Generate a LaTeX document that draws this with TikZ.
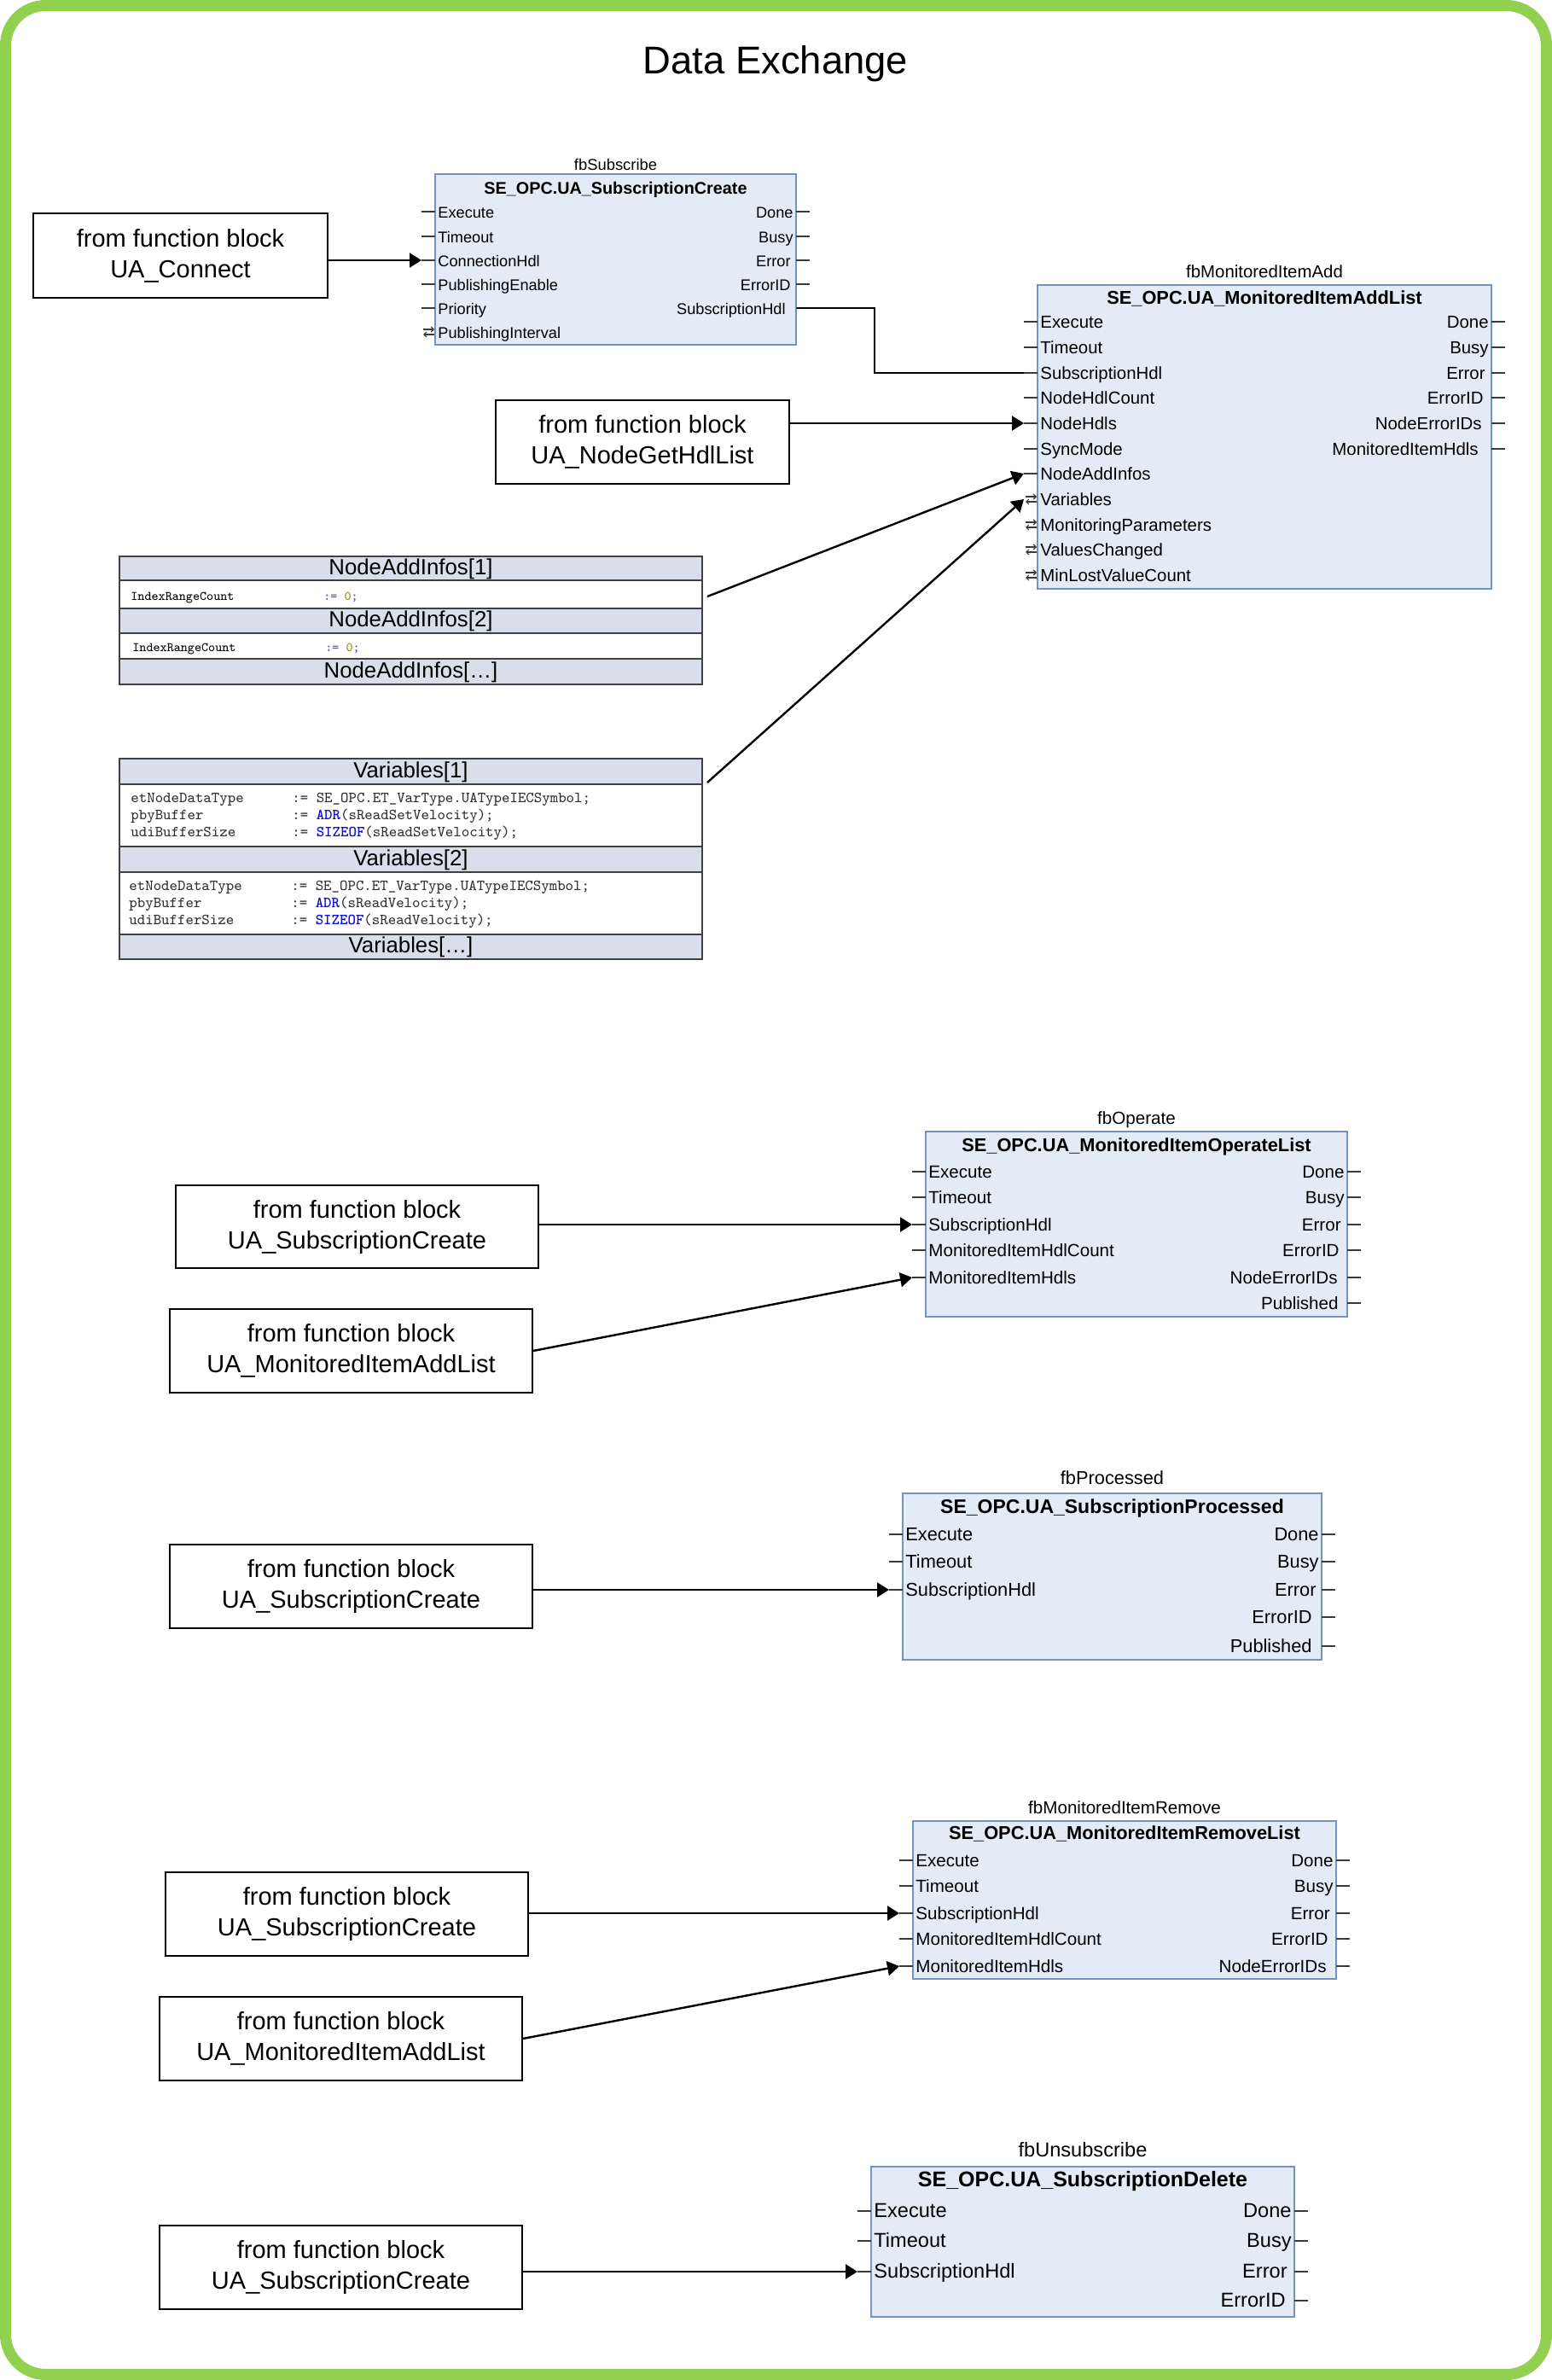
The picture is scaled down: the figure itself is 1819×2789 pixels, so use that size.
\documentclass[tikz,border=0pt]{standalone}
\usepackage{fontspec}
\setmainfont{Liberation Sans}
\usetikzlibrary{arrows.meta,fit}
\definecolor{framegreen}{HTML}{92D050}
\definecolor{fbfill}{HTML}{E3EBF7}
\definecolor{fbdraw}{HTML}{7393C1}
\definecolor{thfill}{HTML}{D9DFEA}
\definecolor{tdraw}{HTML}{404040}
\definecolor{stubc}{HTML}{3A3A3A}
\definecolor{kwblue}{HTML}{1010D0}
\definecolor{opblue}{HTML}{4848E0}
\definecolor{numolive}{HTML}{8A8A10}
\definecolor{codegray}{HTML}{303030}
\newcommand\fsz[1]{\fontsize{#1}{#1}\selectfont}
\def\bodysize{10}\def\ttlsize{10}\def\hdsize{11}
\tikzset{
  fbblock/.style={draw=fbdraw, fill=fbfill, line width=1pt, inner sep=0pt},
  stub/.style={draw=stubc, line width=0.6pt},
  pinlbl/.style={inner sep=0pt, text height=0.72em, text depth=0pt, font=\fsz{\bodysize}},
  srcbox/.style={draw=black, line width=0.8pt, inner sep=0pt, fill=white},
  srctext/.style={align=center, inner sep=0pt, font=\fontsize{14.5}{18}\selectfont},
  link/.style={draw=black, line width=1.2pt, -{Triangle[length=7pt,width=8.5pt]}},
  wire/.style={draw=black, line width=1.1pt},
  thead/.style={draw=tdraw, fill=thfill, line width=0.8pt, inner sep=0pt},
  tbody/.style={draw=tdraw, fill=white, line width=0.8pt, inner sep=0pt},
  hdtxt/.style={inner sep=0pt, text height=0.72em, text depth=0pt, font=\fsz{12.9}},
  codeA/.style={inner sep=0pt, anchor=west, text height=0.6em, text depth=0pt, font=\ttfamily\fsz{7.6}},
  codeB/.style={inner sep=0pt, anchor=west, text height=0.6em, text depth=0pt, font=\ttfamily\fsz{9}, text=codegray},
}
% input pin: name, left x, y, label
\newcommand\pinin[4]{%
  \coordinate (#1) at ({#2-16},#3);
  \draw[stub] (#1) -- (#2,#3);
  \node[pinlbl,anchor=west] (#1-t) at ({#2+3},#3) {#4};}
% in-out pin
\newcommand\pinio[4]{%
  \coordinate (#1) at ({#2-16},#3);
  \draw[stub,-{Straight Barb[length=1.5pt,width=3pt]}] ({#2-14},{#3-3}) -- ({#2-1},{#3-3});
  \draw[stub,-{Straight Barb[length=1.5pt,width=3pt]}] ({#2-1},{#3+3}) -- ({#2-14},{#3+3});
  \node[pinlbl,anchor=west] (#1-t) at ({#2+3},#3) {#4};}
% output pin: [inset], name, right x, y, label
\newcommand\pinout[5][3]{%
  \coordinate (#2) at ({#3+16},#4);
  \draw[stub] (#3,#4) -- (#2);
  \node[pinlbl,anchor=east] (#2-t) at ({#3-#1},#4) {#5};}
% block frame: name, L, T, R, B, instance, type, title y, header y
\newcommand\fbframe[9]{%
  \node[fbblock, fit={(#2,#3) (#4,#5)}] (#1) {};
  \node[font=\fsz{\ttlsize}, inner sep=0pt, text height=0.72em, text depth=0pt] (#1-name) at ({(#2+#4)/2},#8) {#6};
  \node[font=\bfseries\fsz{\hdsize}, inner sep=0pt, text height=0.72em, text depth=0pt] (#1-type) at ({(#2+#4)/2},#9) {#7};}
\begin{document}
\begin{tikzpicture}[x=0.5pt,y=-0.5pt]
\useasboundingbox (0,0) rectangle (1819,2789);
\draw[draw=framegreen, line width=6.5pt, rounded corners=23.5pt] (6.5,6.5) rectangle (1812.5,2782.5);
\node[inner sep=0pt, font=\fsz{22.7}, text height=0.72em, text depth=0pt] (title) at (909,79) {Data Exchange};

% ---------- fbSubscribe ----------
\def\bodysize{9.1}\def\ttlsize{9.2}\def\hdsize{9.9}
\fbframe{sub}{510}{204}{933}{404}{fbSubscribe}{SE\_OPC.UA\_SubscriptionCreate}{192}{220}
\pinin{subI1}{510}{248}{Execute}
\pinin{subI2}{510}{277}{Timeout}
\pinin{subI3}{510}{305}{ConnectionHdl}
\pinin{subI4}{510}{333}{PublishingEnable}
\pinin{subI5}{510}{361}{Priority}
\pinio{subI6}{510}{389}{PublishingInterval}
\pinout{subO1}{933}{248}{Done}
\pinout{subO2}{933}{277}{Busy}
\pinout[6]{subO3}{933}{305}{Error}
\pinout[6]{subO4}{933}{333}{ErrorID}
\pinout[12]{subO5}{933}{361}{SubscriptionHdl}

% ---------- fbMonitoredItemAdd ----------
\def\bodysize{10.2}\def\ttlsize{10.2}\def\hdsize{10.9}
\fbframe{ma}{1216}{334}{1748}{690}{fbMonitoredItemAdd}{SE\_OPC.UA\_MonitoredItemAddList}{318}{349}
\pinin{maI1}{1216}{377}{Execute}
\pinin{maI2}{1216}{407}{Timeout}
\pinin{maI3}{1216}{437}{SubscriptionHdl}
\pinin{maI4}{1216}{466}{NodeHdlCount}
\pinin{maI5}{1216}{496}{NodeHdls}
\pinin{maI6}{1216}{526}{SyncMode}
\pinin{maI7}{1216}{555}{NodeAddInfos}
\pinio{maI8}{1216}{585}{Variables}
\pinio{maI9}{1216}{615}{MonitoringParameters}
\pinio{maI10}{1216}{644}{ValuesChanged}
\pinio{maI11}{1216}{674}{MinLostValueCount}
\pinout{maO1}{1748}{377}{Done}
\pinout{maO2}{1748}{407}{Busy}
\pinout[7]{maO3}{1748}{437}{Error}
\pinout[9]{maO4}{1748}{466}{ErrorID}
\pinout[11]{maO5}{1748}{496}{NodeErrorIDs}
\pinout[15]{maO6}{1748}{526}{MonitoredItemHdls}

% ---------- fbOperate ----------
\def\bodysize{10.3}\def\ttlsize{10.3}\def\hdsize{10.9}
\fbframe{op}{1085}{1326}{1579}{1543}{fbOperate}{SE\_OPC.UA\_MonitoredItemOperateList}{1310}{1342}
\pinin{opI1}{1085}{1373}{Execute}
\pinin{opI2}{1085}{1403}{Timeout}
\pinin{opI3}{1085}{1435}{SubscriptionHdl}
\pinin{opI4}{1085}{1465}{MonitoredItemHdlCount}
\pinin{opI5}{1085}{1497}{MonitoredItemHdls}
\pinout{opO1}{1579}{1373}{Done}
\pinout{opO2}{1579}{1403}{Busy}
\pinout[7]{opO3}{1579}{1435}{Error}
\pinout[9]{opO4}{1579}{1465}{ErrorID}
\pinout[11]{opO5}{1579}{1497}{NodeErrorIDs}
\pinout[10]{opO6}{1579}{1527}{Published}

% ---------- fbProcessed ----------
\def\bodysize{10.9}\def\ttlsize{10.9}\def\hdsize{11.5}
\fbframe{pr}{1058}{1750}{1549}{1945}{fbProcessed}{SE\_OPC.UA\_SubscriptionProcessed}{1732}{1766}
\pinin{prI1}{1058}{1798}{Execute}
\pinin{prI2}{1058}{1830}{Timeout}
\pinin{prI3}{1058}{1863}{SubscriptionHdl}
\pinout{prO1}{1549}{1798}{Done}
\pinout{prO2}{1549}{1830}{Busy}
\pinout[6]{prO3}{1549}{1863}{Error}
\pinout[11]{prO4}{1549}{1895}{ErrorID}
\pinout[11]{prO5}{1549}{1929}{Published}

% ---------- fbMonitoredItemRemove ----------
\def\bodysize{10.3}\def\ttlsize{10.3}\def\hdsize{10.9}
\fbframe{rm}{1070}{2134}{1566}{2319}{fbMonitoredItemRemove}{SE\_OPC.UA\_MonitoredItemRemoveList}{2118}{2148}
\pinin{rmI1}{1070}{2180}{Execute}
\pinin{rmI2}{1070}{2210}{Timeout}
\pinin{rmI3}{1070}{2242}{SubscriptionHdl}
\pinin{rmI4}{1070}{2272}{MonitoredItemHdlCount}
\pinin{rmI5}{1070}{2304}{MonitoredItemHdls}
\pinout{rmO1}{1566}{2180}{Done}
\pinout{rmO2}{1566}{2210}{Busy}
\pinout[7]{rmO3}{1566}{2242}{Error}
\pinout[9]{rmO4}{1566}{2272}{ErrorID}
\pinout[11]{rmO5}{1566}{2304}{NodeErrorIDs}

% ---------- fbUnsubscribe ----------
\def\bodysize{11.8}\def\ttlsize{11.8}\def\hdsize{12.5}
\fbframe{un}{1021}{2539}{1517}{2715}{fbUnsubscribe}{SE\_OPC.UA\_SubscriptionDelete}{2520}{2555}
\pinin{unI1}{1021}{2591}{Execute}
\pinin{unI2}{1021}{2626}{Timeout}
\pinin{unI3}{1021}{2662}{SubscriptionHdl}
\pinout{unO1}{1517}{2591}{Done}
\pinout{unO2}{1517}{2626}{Busy}
\pinout[8]{unO3}{1517}{2662}{Error}
\pinout[10]{unO4}{1517}{2696}{ErrorID}

% ---------- source boxes ----------
\node[srcbox, fit={(39,250) (384,349)}] (srcA) {};
\node[srctext] (srcA-t) at (srcA.center) {from function block\\UA\_Connect};
\node[srcbox, fit={(581,469) (925,567)}] (srcB) {};
\node[srctext] (srcB-t) at (srcB.center) {from function block\\UA\_NodeGetHdlList};
\node[srcbox, fit={(206,1389) (631,1486)}] (srcC) {};
\node[srctext] (srcC-t) at (srcC.center) {from function block\\UA\_SubscriptionCreate};
\node[srcbox, fit={(199,1534) (624,1632)}] (srcD) {};
\node[srctext] (srcD-t) at (srcD.center) {from function block\\UA\_MonitoredItemAddList};
\node[srcbox, fit={(199,1810) (624,1908)}] (srcE) {};
\node[srctext] (srcE-t) at (srcE.center) {from function block\\UA\_SubscriptionCreate};
\node[srcbox, fit={(194,2194) (619,2292)}] (srcF) {};
\node[srctext] (srcF-t) at (srcF.center) {from function block\\UA\_SubscriptionCreate};
\node[srcbox, fit={(187,2340) (612,2438)}] (srcG) {};
\node[srctext] (srcG-t) at (srcG.center) {from function block\\UA\_MonitoredItemAddList};
\node[srcbox, fit={(187,2608) (612,2706)}] (srcH) {};
\node[srctext] (srcH-t) at (srcH.center) {from function block\\UA\_SubscriptionCreate};

% ---------- NodeAddInfos table ----------
\node[thead, fit={(140,652) (823,680)}] (nai1) {};
\node[hdtxt] (nai1-t) at (nai1.center) {NodeAddInfos[1]};
\node[tbody, fit={(140,680) (823,713)}] (nai1b) {};
\node[codeA] (nai1b-a) at (153,697) {IndexRangeCount};
\node[codeA] (nai1b-b) at (379,697) {\textcolor{opblue}{:=} \textcolor{numolive}{0}\textcolor{opblue}{;}};
\node[thead, fit={(140,713) (823,742)}] (nai2) {};
\node[hdtxt] (nai2-t) at (nai2.center) {NodeAddInfos[2]};
\node[tbody, fit={(140,742) (823,772)}] (nai2b) {};
\node[codeA] (nai2b-a) at (155,757) {IndexRangeCount};
\node[codeA] (nai2b-b) at (381,757) {\textcolor{opblue}{:=} \textcolor{numolive}{0}\textcolor{opblue}{;}};
\node[thead, fit={(140,772) (823,802)}] (nai3) {};
\node[hdtxt] (nai3-t) at (nai3.center) {NodeAddInfos[…]};

% ---------- Variables table ----------
\node[thead, fit={(140,889) (823,919)}] (var1) {};
\node[hdtxt] (var1-t) at (var1.center) {Variables[1]};
\node[tbody, fit={(140,919) (823,992)}] (var1b) {};
\node[codeB] (var1b-a1) at (153,934) {etNodeDataType};
\node[codeB] (var1b-b1) at (342,934) {:= SE\_OPC.ET\_VarType.UATypeIECSymbol;};
\node[codeB] (var1b-a2) at (153,954) {pbyBuffer};
\node[codeB] (var1b-b2) at (342,954) {:= \textcolor{kwblue}{\bfseries ADR}(sReadSetVelocity);};
\node[codeB] (var1b-a3) at (153,974) {udiBufferSize};
\node[codeB] (var1b-b3) at (342,974) {:= \textcolor{kwblue}{\bfseries SIZEOF}(sReadSetVelocity);};
\node[thead, fit={(140,992) (823,1022)}] (var2) {};
\node[hdtxt] (var2-t) at (var2.center) {Variables[2]};
\node[tbody, fit={(140,1022) (823,1095)}] (var2b) {};
\node[codeB] (var2b-a1) at (151,1037) {etNodeDataType};
\node[codeB] (var2b-b1) at (341,1037) {:= SE\_OPC.ET\_VarType.UATypeIECSymbol;};
\node[codeB] (var2b-a2) at (151,1057) {pbyBuffer};
\node[codeB] (var2b-b2) at (341,1057) {:= \textcolor{kwblue}{\bfseries ADR}(sReadVelocity);};
\node[codeB] (var2b-a3) at (151,1077) {udiBufferSize};
\node[codeB] (var2b-b3) at (341,1077) {:= \textcolor{kwblue}{\bfseries SIZEOF}(sReadVelocity);};
\node[thead, fit={(140,1095) (823,1124)}] (var3) {};
\node[hdtxt] (var3-t) at (var3.center) {Variables[…]};

% ---------- connectors ----------
\draw[link] (srcA.east |- subI3) -- (subI3);
\draw[wire] (sub.east |- subO5) -- ++(91,0) |- (maI3);
\draw[link] (srcB.east |- maI5) -- (maI5);
\coordinate (naiOut) at (829,699);
\coordinate (varOut) at (829,917);
\draw[link] (naiOut) -- (maI7);
\draw[link] (varOut) -- (maI8);
\draw[link] (srcC.east |- opI3) -- (opI3);
\draw[link] (srcD.east) -- (opI5);
\draw[link] (srcE.east |- prI3) -- (prI3);
\draw[link] (srcF.east |- rmI3) -- (rmI3);
\draw[link] (srcG.east) -- (rmI5);
\draw[link] (srcH.east |- unI3) -- (unI3);
\end{tikzpicture}
\end{document}
